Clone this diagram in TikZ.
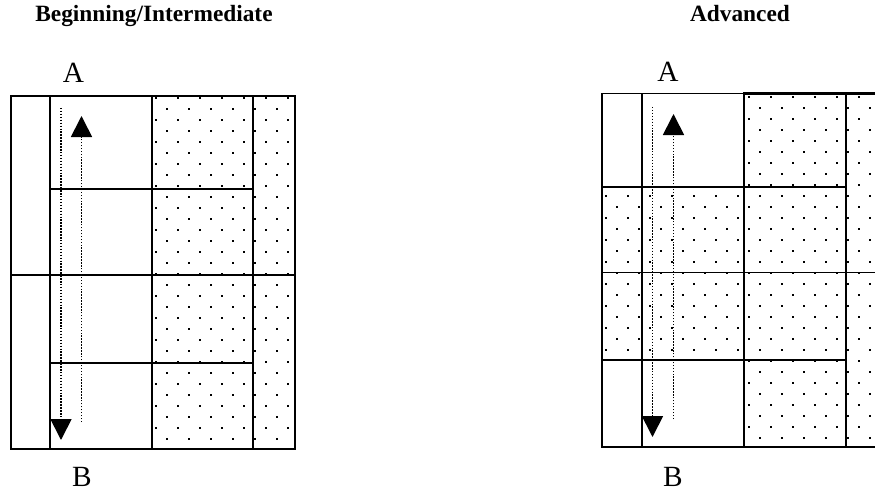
\documentclass[tikz,border=0pt]{standalone}
\usepackage{fontspec}
\setmainfont{Liberation Serif}
\usetikzlibrary{arrows.meta}
\tikzset{
  thinline/.style={line width=1.1pt},
  midline/.style={line width=1.6pt},
  thickline/.style={line width=2.2pt},
  dotarrow/.style={line width=1.3pt, dash pattern=on 1.1pt off 1.1pt,
    -{Triangle[width=15.75pt,length=15.75pt]}},
  title/.style={font=\bfseries\fontsize{17.5}{19}\selectfont, inner sep=0pt, anchor=base},
  lbl/.style={font=\fontsize{22}{24}\selectfont, inner sep=0pt},
}
\newcommand{\mydotgrid}[4]{%
  \foreach \a in {#3,...,#4}{\foreach \b in {0,...,16}{
    \fill ({#1+22*\a-1},{#2+22*\b-1}) rectangle ++(2,2);
    \fill ({#1+11+22*\a-1},{#2+11+22*\b-1}) rectangle ++(2,2);
  }}}
\begin{document}
\begin{tikzpicture}[x=0.75pt,y=-0.75pt]
\useasboundingbox (0,0) rectangle (875,492);
\clip (0,0) rectangle (875,492);
% titles
\node[title] (t1) at (154,22) {Beginning/Intermediate};
\node[title] (t2) at (740,22) {Advanced};

% ---------- left diagram ----------
\begin{scope}
  \clip (152,96) rectangle (295,449);
  \mydotgrid{156}{98}{-1}{7}
\end{scope}
\draw[thinline] (11,96) rectangle (152,449);
\draw[thinline] (50,96) -- (50,449);
\draw[thinline] (11,275) -- (295,275);
\draw[thinline] (253,96) -- (253,449);
\draw[midline] (50,189) rectangle (253,363);
\draw[thickline] (152,96) rectangle (295,449);
\coordinate (l1s) at (61,108);
\coordinate (l1e) at (61,440);
\coordinate (l2s) at (81.5,422);
\coordinate (l2e) at (81.5,116);
\draw[dotarrow] (l1s) -- (l1e);
\draw[dotarrow] (l2s) -- (l2e);
\node[lbl] (la) at (73.5,72.5) {A};
\node[lbl] (lb) at (82,477) {B};

% ---------- right diagram ----------
\begin{scope}
  \clip (744,93.5) rectangle (886,447) (602,187) rectangle (744,360);
  \mydotgrid{749}{97}{-7}{7}
\end{scope}
\draw[thinline] (602,93.5) rectangle (744,447);
\draw[thinline] (642,93.5) -- (642,447);
\draw[thinline] (602,272.5) -- (886,272.5);
\draw[thinline] (846,93.5) -- (846,447);
\draw[midline] (602,187) rectangle (846,360);
\draw[midline] (642,187) -- (642,360);
\draw[thickline] (744,93.5) rectangle (886,447);
\coordinate (r1s) at (652.5,107);
\coordinate (r1e) at (652.5,437);
\coordinate (r2s) at (673.5,419);
\coordinate (r2e) at (673.5,114);
\draw[dotarrow] (r1s) -- (r1e);
\draw[dotarrow] (r2s) -- (r2e);
\node[lbl] (ra) at (668,72) {A};
\node[lbl] (rb) at (673,477) {B};
\end{tikzpicture}
\end{document}
